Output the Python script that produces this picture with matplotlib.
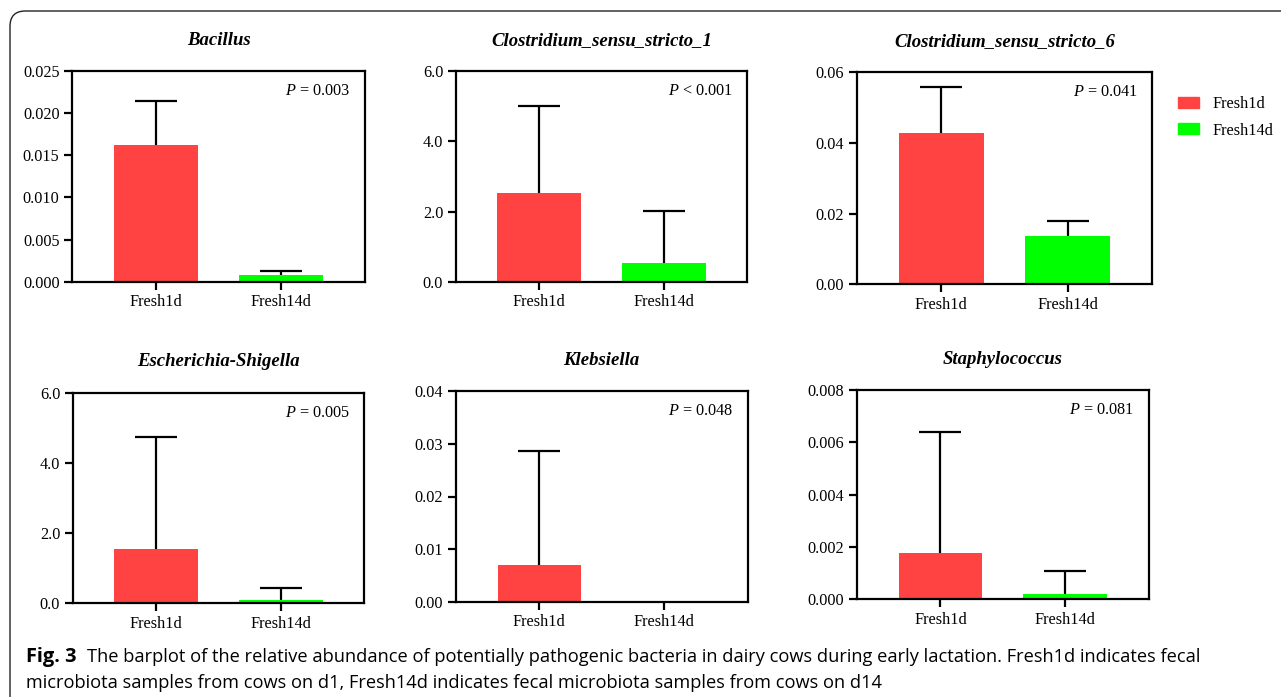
import matplotlib
matplotlib.use("Agg")
import matplotlib.pyplot as plt
from matplotlib.patches import Patch, FancyBboxPatch

plt.rcParams['font.family'] = ['Liberation Serif', 'DejaVu Serif']
plt.rcParams['mathtext.fontset'] = 'custom'
plt.rcParams['mathtext.rm'] = 'Liberation Serif'
plt.rcParams['mathtext.it'] = 'Liberation Serif:italic'

# data
groups = ["Fresh1d", "Fresh14d"]
colors = ["#ff4343", "#00ff00"]

titles = ["Bacillus", "Clostridium_sensu_stricto_1", "Clostridium_sensu_stricto_6",
          "Escherichia-Shigella", "Klebsiella", "Staphylococcus"]
p_labels = ["= 0.003", "< 0.001", "= 0.041", "= 0.005", "= 0.048", "= 0.081"]

bacillus_mean = [0.0162, 0.0008]
bacillus_top = [0.0214, 0.0013]
clos1_mean = [2.53, 0.53]
clos1_top = [5.01, 2.02]
clos6_mean = [0.0427, 0.0136]
clos6_top = [0.0558, 0.0178]
esch_mean = [1.54, 0.08]
esch_top = [4.75, 0.43]
kleb_mean = [0.0070, 0.0]
kleb_top = [0.0286, 0.0]
staph_mean = [0.00178, 0.0002]
staph_top = [0.0064, 0.0011]

means = [bacillus_mean, clos1_mean, clos6_mean, esch_mean, kleb_mean, staph_mean]
tops = [bacillus_top, clos1_top, clos6_top, esch_top, kleb_top, staph_top]
ymax = [0.025, 6.0, 0.06, 6.0, 0.04, 0.008]
ystep = [0.005, 2.0, 0.02, 2.0, 0.01, 0.002]
yfmt = ["%.3f", "%.1f", "%.2f", "%.1f", "%.2f", "%.3f"]

W, H = 1281, 697
fig = plt.figure(figsize=(W / 100, H / 100), dpi=100)

# axes boxes in pixels: left, top, right, bottom
boxes = [(72, 71, 365, 281.7), (455.7, 71.3, 747.3, 281.7), (856.7, 72, 1152.3, 284.3),
         (72.7, 392.7, 364.3, 603.3), (455.7, 391, 747.7, 602), (856.7, 390, 1149, 599.3)]

for i in range(6):
    l, t, r, b = boxes[i]
    ax = fig.add_axes([l / W, 1 - b / H, (r - l) / W, (b - t) / H])
    x = [0, 1]
    ax.bar(x, means[i], width=0.67, color=colors, zorder=2)
    for j in range(2):
        err = tops[i][j] - means[i][j]
        if err > 0:
            eb = ax.errorbar(x[j], means[i][j], yerr=[[0], [err]], fmt='none', ecolor='black',
                             elinewidth=1.6, capsize=15, capthick=1.6, zorder=1)
            # only the upper cap is shown
            eb[1][0].set_visible(False)
    ax.set_xlim(-0.67, 1.67)
    ax.set_ylim(0, ymax[i])
    n = int(round(ymax[i] / ystep[i]))
    yt = [k * ystep[i] for k in range(n + 1)]
    ax.set_yticks(yt)
    ax.set_yticklabels([yfmt[i] % v for v in yt])
    ax.set_xticks(x)
    ax.set_xticklabels(groups)
    ax.tick_params(direction='out', length=6, width=1.6, labelsize=11.7, pad=3)
    for s in ax.spines.values():
        s.set_linewidth(1.6)
    ax.set_title(titles[i], fontsize=13.5, fontweight='bold', fontstyle='italic', pad=19)
    ax.text(0.95, 0.905, "$P$ " + p_labels[i], transform=ax.transAxes, ha='right',
            va='center', fontsize=11.7)

handles = [Patch(color=colors[0], label=groups[0]), Patch(color=colors[1], label=groups[1])]
fig.legend(handles=handles, loc='upper left', bbox_to_anchor=(1178 / W, 1 - 96 / H),
           frameon=False, fontsize=11.7, handlelength=1.3, handleheight=0.65,
           handletextpad=0.8, labelspacing=0.65, borderpad=0, borderaxespad=0)

# rounded frame, cut off at right and bottom
frame = FancyBboxPatch((10 / W, -0.2), 1.2, 1 - 11 / H + 0.2,
                       boxstyle="round,pad=0,rounding_size=0.012",
                       transform=fig.transFigure, fill=False, lw=1.0, ec='#222222',
                       mutation_aspect=W / H)
fig.patches.append(frame)

# caption
cap_font = ['Open Sans', 'DejaVu Sans']
line1 = ("The barplot of the relative abundance of potentially pathogenic bacteria in dairy cows "
         "during early lactation. Fresh1d indicates fecal")
line2 = "microbiota samples from cows on d1, Fresh14d indicates fecal microbiota samples from cows on d14"
renderer = fig.canvas.get_renderer()
t0 = fig.text(26 / W, 1 - 662 / H, "Fig. 3", fontsize=12, fontweight='bold', va='baseline',
              family=cap_font)
w0 = t0.get_window_extent(renderer).width
t0.set_fontsize(12 * 51 / w0)
t1 = fig.text(87 / W, 1 - 662 / H, line1, fontsize=12, va='baseline', family=cap_font)
w1 = t1.get_window_extent(renderer).width
fs = 12 * 1111 / w1
t1.set_fontsize(fs)
fig.text(26 / W, 1 - 688 / H, line2, fontsize=fs, va='baseline', family=cap_font)

fig.savefig("out.png", dpi=100)
